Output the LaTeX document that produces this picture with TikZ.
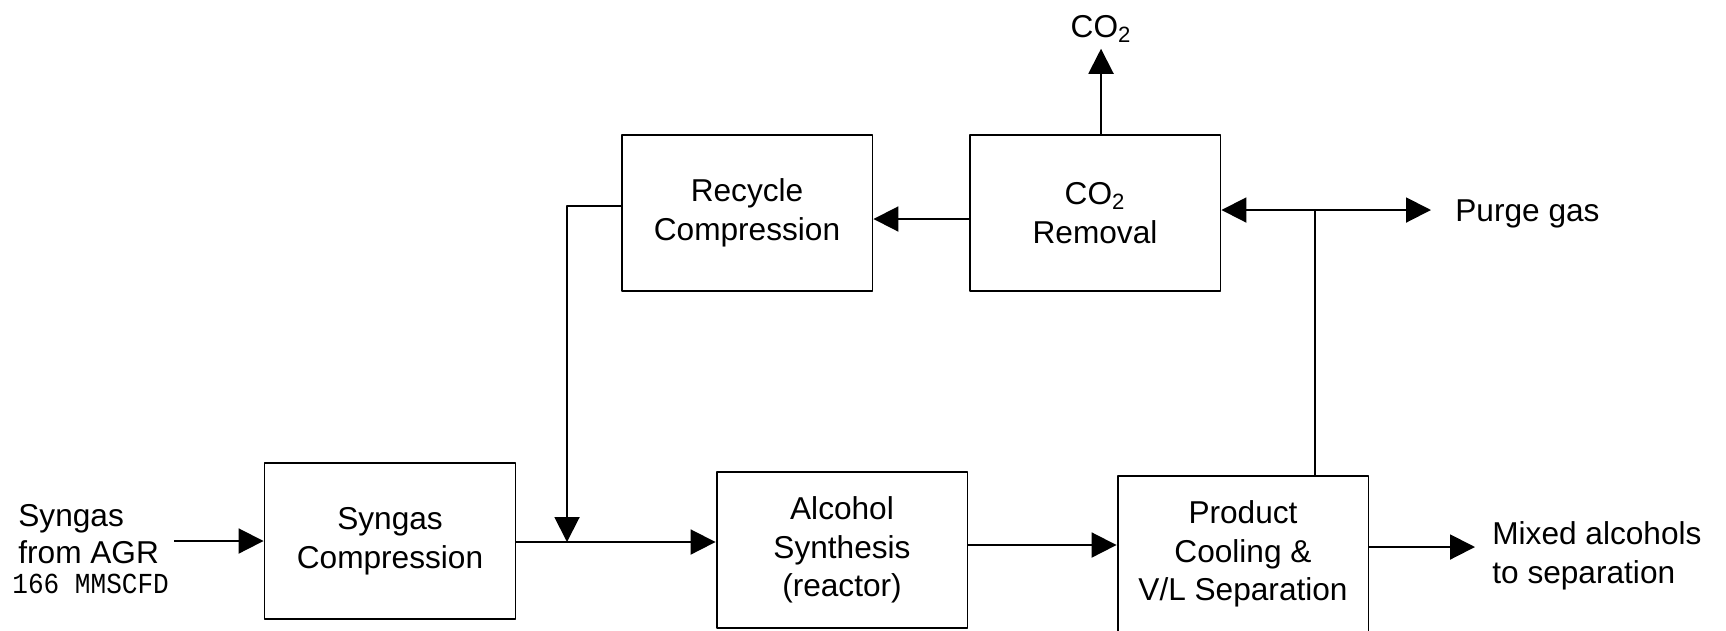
\documentclass[tikz,border=0pt]{standalone}
\usepackage{fontspec}
\setmainfont{Liberation Sans}
\newfontfamily\monofont{Liberation Mono}
\usetikzlibrary{arrows.meta}

\tikzset{
  unit/.style={draw, line width=1.1pt, minimum width=5.02cm, minimum height=3.12cm,
    inner sep=0pt, align=center},
  pipe/.style={line width=1.1pt},
  flow/.style={pipe, -{Triangle[length=0.5cm,width=0.5cm]}},
  lbl/.style={align=left, inner sep=0pt}
}

\begin{document}
\begin{tikzpicture}[x=0.02cm, y=-0.02cm, line join=round, font=\fontsize{18}{22}\selectfont]
  \useasboundingbox (0,0) rectangle (1726,630);

  % Process units
  \node[unit] (syn) at (390,541) {Syngas\\Compression};
  \node[unit] (alc) at (842,550) {Alcohol\\Synthesis\\(reactor)};
  \node[unit] (prod) at (1243,554) {Product\\Cooling \&\\V/L Separation};
  \node[unit] (rec) at (747,213) {Recycle\\Compression};
  \node[unit] (rem) at (1095,213) {CO\textsubscript{2}\\Removal};

  % Stream labels
  \node[lbl, anchor=north west] (feed) at (18,504)
    {Syngas\\[-1pt]from AGR\\[-5pt]\hspace*{-0.12cm}{\monofont\fontsize{16.5}{17}\selectfont
     \scalebox{0.9}[1]{166 MMSCFD}}};
  \node[lbl, anchor=west] (mix) at (1492,556) {Mixed alcohols\\to separation};
  \node[lbl, anchor=west] (purge) at (1455,214) {Purge gas};
  \node (co2) at (1101,29) {CO\textsubscript{2}};

  % Junctions and free ends
  \coordinate (src) at (174,541);
  \coordinate (join) at (567,542);
  \coordinate (mid) at (990,545);
  \coordinate (out) at (1475,547);
  \coordinate (tee) at (1315,210);
  \coordinate (vent) at (1431,210);

  % Main line
  \draw[flow] (src) -- (src -| syn.west);
  \draw[flow] (syn.east |- join) -- (join -| alc.west);
  \draw[flow] (mid -| alc.east) -- (mid -| prod.west);
  \draw[flow] (prod.east |- out) -- (out);

  % Recycle loop
  \draw[pipe] (prod.north -| tee) -- (tee);
  \draw[flow] (tee) -- (tee -| rem.east);
  \draw[flow] (tee) -- (vent);
  \draw[flow] ([yshift=-0.12cm]rem.west) -- ([yshift=-0.12cm]rec.east);
  \draw[flow] ([yshift=0.14cm]rec.west) -| (join);
  \draw[flow] (co2.south |- rem.north) -- (co2.south);
\end{tikzpicture}
\end{document}
